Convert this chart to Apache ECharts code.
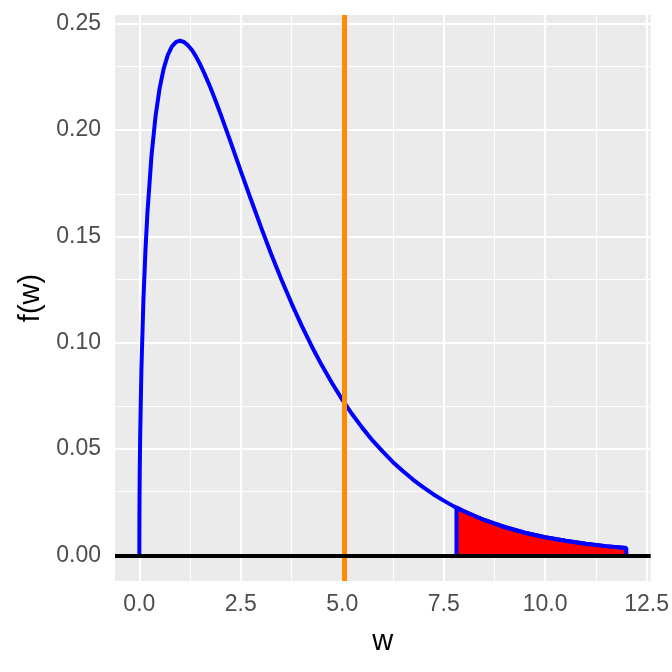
<!DOCTYPE html>
<html>
<head>
<meta charset="utf-8">
<script src="https://cdn.jsdelivr.net/npm/echarts@6/dist/echarts.min.js"></script>
<style>html,body{margin:0;padding:0;background:#fff;}#c{width:672px;height:672px;}</style>
</head>
<body>
<div id="c"></div>
<script>
// density curve
const wValues = [0,0.002,0.005,0.01,0.02,0.05,0.1,0.15,0.2,0.3,0.4,0.5,0.6,0.7,0.8,0.9,1.0,1.1,1.2,1.3,1.4,1.5,1.6,1.7,1.8,1.9,2.0,2.25,2.5,2.75,3.0,3.25,3.5,3.75,4.0,4.25,4.5,4.75,5.0,5.25,5.5,5.75,6.0,6.25,6.5,6.75,7.0,7.25,7.5,7.75,8.0,8.5,9.0,9.5,10,10.5,11,11.5,12];
const fValues = [0,0.0178,0.0281,0.0397,0.0559,0.0870,0.1200,0.1433,0.1614,0.1881,0.2066,0.2197,0.2289,0.2352,0.2392,0.2413,0.2420,0.2414,0.2398,0.2375,0.2344,0.2308,0.2267,0.2223,0.2176,0.2127,0.2076,0.1943,0.1807,0.1673,0.1542,0.1416,0.1297,0.1185,0.1080,0.0982,0.0892,0.0809,0.0732,0.0662,0.0598,0.0539,0.0487,0.0438,0.0395,0.0355,0.0319,0.0286,0.0257,0.0230,0.0207,0.0166,0.0133,0.0106,0.0085,0.0068,0.0054,0.0043,0.0034];
// shaded rejection region
const shadeW = [7.815,7.815,8.0,8.25,8.5,8.75,9.0,9.5,10,10.5,11,11.5,12,12];
const shadeF = [0,0.0224,0.0207,0.0186,0.0166,0.0149,0.0133,0.0106,0.0085,0.0068,0.0054,0.0043,0.0034,0];
const observedW = 5.04;
const xTicks = [0,2.5,5,7.5,10,12.5];
const xMinor = [1.25,3.75,6.25,8.75,11.25];
const yTicks = [0,0.05,0.1,0.15,0.2,0.25];
const yMinor = [0.025,0.075,0.125,0.175,0.225];

const zip = (a,b) => a.map((v,i)=>[v,b[i]]);
const font = 'Liberation Sans, Arial, sans-serif';

const gridLines = [];
xMinor.forEach(v=>gridLines.push({xAxis:v, lineStyle:{color:'#fff',width:1.1,type:'solid'}}));
yMinor.forEach(v=>gridLines.push({yAxis:v, lineStyle:{color:'#fff',width:1.1,type:'solid'}}));
xTicks.forEach(v=>gridLines.push({xAxis:v, lineStyle:{color:'#fff',width:2.2,type:'solid'}}));
yTicks.forEach(v=>gridLines.push({yAxis:v, lineStyle:{color:'#fff',width:2.2,type:'solid'}}));

const chart = echarts.init(document.getElementById('c'), null, {renderer:'canvas'});
chart.setOption({
  animation:false,
  backgroundColor:'#fff',
  grid:{left:115,right:15,top:15,bottom:91,show:true,backgroundColor:'#ebebeb',borderWidth:0,containLabel:false},
  xAxis:{type:'value',min:-0.6,max:12.6,
    axisLine:{show:false},
    axisTick:{show:true,customValues:xTicks,length:7,lineStyle:{color:'#333',width:2}},
    axisLabel:{customValues:xTicks,formatter:v=>v.toFixed(1),fontSize:23,color:'#4d4d4d',margin:12,fontFamily:font},
    splitLine:{show:false},
    name:'w',nameLocation:'middle',nameGap:46,nameTextStyle:{fontSize:29,color:'#000',fontFamily:font}
  },
  yAxis:{type:'value',min:-0.0121,max:0.2541,
    axisLine:{show:false},
    axisTick:{show:true,customValues:yTicks,length:7,lineStyle:{color:'#333',width:2}},
    axisLabel:{customValues:yTicks,formatter:v=>v.toFixed(2),fontSize:23,color:'#4d4d4d',margin:14,fontFamily:font},
    splitLine:{show:false},
    name:'f(w)',nameLocation:'middle',nameGap:68,nameRotate:90,nameTextStyle:{fontSize:29,color:'#000',fontFamily:font}
  },
  series:[
    {type:'line',data:[],z:1,silent:true,
      markLine:{z:1,silent:true,symbol:'none',label:{show:false},animation:false,data:gridLines}},
    {type:'line',data:zip(shadeW,shadeF),z:3,symbol:'none',
      lineStyle:{color:'#0000ff',width:4},areaStyle:{color:'#ff0000',opacity:1}},
    {type:'line',data:zip(wValues,fValues),z:4,symbol:'none',
      lineStyle:{color:'#0000ff',width:4}},
    {type:'line',data:[],z:6,
      markLine:{z:6,silent:true,symbol:'none',label:{show:false},animation:false,
        data:[{xAxis:observedW,lineStyle:{color:'#ff8c00',width:5,type:'solid'}}]}},
    {type:'line',data:[],z:7,
      markLine:{z:7,silent:true,symbol:'none',label:{show:false},animation:false,
        data:[{yAxis:0,lineStyle:{color:'#000',width:4,type:'solid'}}]}}
  ]
});
</script>
</body>
</html>
